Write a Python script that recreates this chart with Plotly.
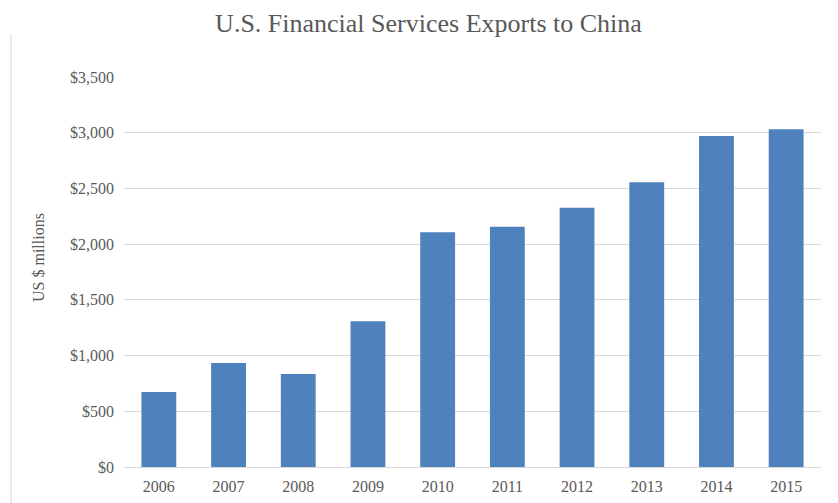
import plotly.graph_objects as go

years = ["2006", "2007", "2008", "2009", "2010", "2011", "2012", "2013", "2014", "2015"]
exports = [672, 934, 835, 1308, 2106, 2156, 2326, 2556, 2970, 3032]
y_ticks = [0, 500, 1000, 1500, 2000, 2500, 3000, 3500]
y_tick_labels = ["$0", "$500", "$1,000", "$1,500", "$2,000", "$2,500", "$3,000", "$3,500"]

font = "Liberation Serif, Times New Roman, serif"
grey = "#595959"

fig = go.Figure(go.Bar(
    x=years, y=exports,
    marker=dict(color="#4F81BD", line=dict(width=0)),
    width=0.5,
))

# chart-area border on the left edge (decorative)
W, H, L, R, T, B = 838, 503, 116, 25, 69, 44
pw, ph = W - L - R, H - T - B
bx = (3 - L) / pw

fig.update_layout(
    width=W, height=H,
    paper_bgcolor="white", plot_bgcolor="white",
    margin=dict(l=L, r=R, t=T, b=B),
    showlegend=False,
    title=dict(text="U.S. Financial Services Exports to China",
               font=dict(family=font, size=26, color=grey),
               x=420.5 / 838, xanchor="center", xref="container",
               y=1 - 15 / 503, yanchor="middle", yref="container"),
    font=dict(family=font, color=grey),
    xaxis=dict(showgrid=False, showline=False, ticks="", ticklabelstandoff=8,
               tickfont=dict(family=font, size=16, color=grey)),
    yaxis=dict(range=[0, 3500], tickvals=y_ticks, ticktext=y_tick_labels,
               showgrid=True, gridcolor="#D9D9D9", gridwidth=1,
               zeroline=True, zerolinecolor="#D9D9D9", zerolinewidth=1,
               showline=False, ticks="", ticklabelstandoff=9,
               tickfont=dict(family=font, size=16, color=grey)),
    annotations=[dict(text="US $ millions", x=0, xref="paper", xshift=-86,
                      y=0.5, yref="paper", yshift=14, xanchor="center", yanchor="middle",
                      textangle=-90, showarrow=False,
                      font=dict(family=font, size=16, color=grey))],
    shapes=[dict(type="line", xref="paper", yref="paper",
                 x0=bx, x1=bx, y0=(ph + B - 1) / ph, y1=-B / ph,
                 line=dict(color="#EBEBEB", width=2))],
)

fig.write_html("out.html")
